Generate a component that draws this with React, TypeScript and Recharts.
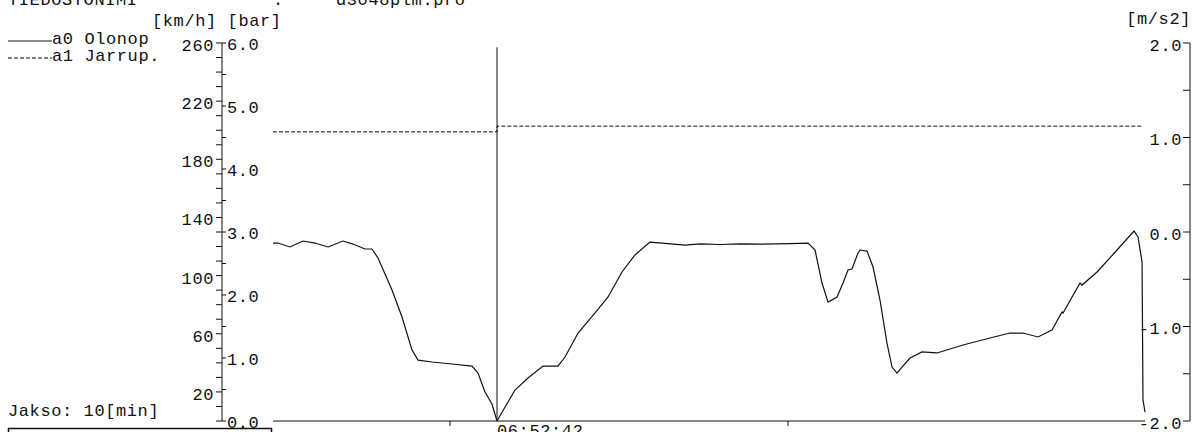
import React from "react";
import { ComposedChart, Line, XAxis, YAxis, ReferenceLine } from "recharts";

// time in minutes from start of the 10 min window
const SPEED_T = [
  0, 0.057, 0.195, 0.344, 0.482, 0.631, 0.803, 0.917, 1.055, 1.135, 1.204, 1.365, 1.479, 1.594,
  1.663, 1.823, 2.053, 2.282, 2.351, 2.431, 2.511, 2.569, 2.661, 2.775, 2.924, 3.096, 3.268,
  3.349, 3.498, 3.693, 3.842, 4.002, 4.151, 4.323, 4.461, 4.725, 4.897, 5.126, 5.356, 5.585,
  5.929, 6.135, 6.216, 6.296, 6.365, 6.468, 6.537, 6.594, 6.64, 6.709, 6.732, 6.812, 6.881,
  6.961, 7.041, 7.099, 7.156, 7.213, 7.305, 7.443, 7.615, 7.913, 8.222, 8.452, 8.601, 8.773,
  8.933, 9.048, 9.06, 9.255, 9.278, 9.45, 9.679, 9.874, 9.92, 9.966, 9.977, 10.0,
];
// a0 Olonop, km/h
const SPEED_KMH = [
  122.4, 122.4, 119.7, 123.8, 122.4, 119.7, 123.8, 121.7, 118.3, 118.3, 112.1, 90.1, 71.5, 48.8,
  41.9, 40.6, 39.2, 37.8, 33.0, 19.9, 11.7, 0, 9.6, 21.3, 29.6, 37.8, 37.8,
  44.0, 60.5, 74.3, 85.3, 102.5, 114.2, 123.1, 122.4, 121.0, 121.8, 121.4, 121.8, 121.6,
  122.0, 122.4, 117.6, 94.9, 81.8, 85.3, 94.9, 103.9, 104.5, 115.6, 117.6, 116.9, 105.9,
  83.2, 53.6, 37.1, 33.0, 37.1, 43.3, 47.5, 46.8, 52.3, 57.1, 60.5, 60.5, 57.8,
  62.6, 75.0, 74.3, 94.9, 93.5, 102.5, 117.6, 130.7, 126.6, 109.4, 14.4, 6.2,
];
// a1 Jarrup., bar
const BRAKE_T = [0, 2.569, 2.569, 9.966];
const BRAKE_BAR = [4.59, 4.59, 4.68, 4.68];

const CURSOR_T = 2.569;
const CURSOR_LABEL = "06:52:42";
const X_DOMAIN: [number, number] = [-0.585, 10.516];
const TIME_TICKS = [2.03, 5.906];
const KMH_TICKS = Array.from({ length: 27 }, (_, i) => i * 10);
const BAR_TICKS = [0, 0.5, 1, 1.5, 2, 2.5, 3, 3.5, 4, 4.5, 5, 5.5, 6];
const MS2_TICKS = [-2, -1.5, -1, -0.5, 0, 0.5, 1, 1.5, 2];

const speedData = SPEED_T.map((t, i) => ({ t, v: SPEED_KMH[i] }));
const brakeData = BRAKE_T.map((t, i) => ({ t, p: BRAKE_BAR[i] }));

const FONT = "'Liberation Mono', 'DejaVu Sans Mono', monospace";
const FS = 17;
const LS = 0.6;
const CW = FS * 0.6 + LS;
const INK = "#111";

const txt = { fontFamily: FONT, fontSize: FS, letterSpacing: LS, fill: INK } as const;

const KmhTick = (props: any) => {
  const { x, y, payload } = props;
  const v = payload.value;
  if ((v - 20) % 40 !== 0) return <g />;
  return (
    <text x={x} y={y + 2} dy="0.35em" textAnchor="end" {...txt}>
      {String(v)}
    </text>
  );
};
const BarTick = (props: any) => {
  const { x, y, payload } = props;
  const v = payload.value;
  if (Math.abs(v - Math.round(v)) > 1e-6) return <g />;
  return (
    <text x={x + 1} y={y + 1} dy="0.35em" textAnchor="start" {...txt}>
      {v.toFixed(1)}
    </text>
  );
};
const Ms2Tick = (props: any) => {
  const { x, y, payload } = props;
  const v = Number(payload.value);
  if (Math.abs(v - Math.round(v)) > 1e-6) return <g />;
  const s = v < 0 ? "-" + Math.abs(v).toFixed(1) : v.toFixed(1);
  return (
    <text x={x - s.length * CW} y={y + 2} dy="0.35em" textAnchor="start" {...txt}>
      {s}
    </text>
  );
};
const EmptyTick = () => <g />;

const cursorLabel = (props: any) => {
  const vb = props.viewBox || {};
  const bottom = (vb.y || 0) + (vb.height || 0);
  return (
    <text x={vb.x} y={bottom + 15} textAnchor="start" {...txt}>
      {CURSOR_LABEL}
    </text>
  );
};

const T = (p: { x: number; y: number; children: React.ReactNode; anchor?: string }) => (
  <text x={p.x} y={p.y} {...txt} textAnchor={(p.anchor as any) || "start"}>
    {p.children}
  </text>
);

export default function App() {
  return (
    <div style={{ position: "absolute", left: 0, top: 0, width: 1193, height: 432, background: "#fff", overflow: "hidden" }}>
      <ComposedChart width={1193} height={432} margin={{ top: 43, right: 3, bottom: 0, left: 0 }}>
        <XAxis
          xAxisId={0}
          type="number"
          dataKey="t"
          domain={X_DOMAIN}
          allowDataOverflow
          ticks={TIME_TICKS}
          interval={0}
          axisLine={false}
          tickLine={{ stroke: INK }}
          tickSize={5}
          tick={EmptyTick}
          height={11}
        />
        <YAxis
          yAxisId="kmh"
          orientation="left"
          width={222}
          domain={[0, 260]}
          allowDataOverflow
          ticks={KMH_TICKS}
          interval={0}
          tickSize={6}
          tickMargin={2}
          axisLine={{ stroke: INK }}
          tickLine={{ stroke: INK }}
          tick={KmhTick}
        />
        <YAxis
          yAxisId="bar"
          orientation="left"
          mirror
          domain={[0, 6]}
          allowDataOverflow
          ticks={BAR_TICKS}
          interval={0}
          tickSize={4}
          tickMargin={0}
          axisLine={false}
          tickLine={{ stroke: INK }}
          tick={BarTick}
        />
        <YAxis
          yAxisId="ms2"
          orientation="right"
          mirror
          width={60}
          domain={[-2, 2]}
          allowDataOverflow
          ticks={MS2_TICKS}
          interval={0}
          tickSize={7}
          tickMargin={1}
          axisLine={{ stroke: INK }}
          tickLine={{ stroke: INK }}
          tick={Ms2Tick}
        />
        <ReferenceLine
          yAxisId="kmh"
          segment={[{ x: 0, y: 0 }, { x: 10, y: 0 }]}
          stroke={INK}
          strokeWidth={1.2}
        />
        <ReferenceLine
          yAxisId="kmh"
          segment={[{ x: CURSOR_T, y: 0 }, { x: CURSOR_T, y: 257 }]}
          stroke={INK}
          strokeWidth={1}
          label={cursorLabel}
        />
        <Line
          yAxisId="bar"
          data={brakeData}
          dataKey="p"
          type="linear"
          stroke={INK}
          strokeWidth={1}
          strokeDasharray="4 2"
          dot={false}
          isAnimationActive={false}
        />
        <Line
          yAxisId="kmh"
          data={speedData}
          dataKey="v"
          type="linear"
          stroke={INK}
          strokeWidth={1.2}
          dot={false}
          isAnimationActive={false}
        />
      </ComposedChart>
      <svg width={1193} height={432} style={{ position: "absolute", left: 0, top: 0, pointerEvents: "none" }}>
        <T x={8} y={5}>TIEDOSTONIMI</T>
        <T x={273} y={5}>:</T>
        <T x={336} y={5}>d3048plm.pro</T>
        <T x={152} y={26}>[km/h] [bar]</T>
        <T x={1191} y={24} anchor="end">[m/s2]</T>
        <line x1={8} y1={41} x2={52} y2={41} stroke={INK} strokeWidth={1} />
        <T x={52} y={44}>a0 Olonop</T>
        <line x1={8} y1={58} x2={52} y2={58} stroke={INK} strokeWidth={1} strokeDasharray="4 2" />
        <T x={52} y={61}>a1 Jarrup.</T>
        <T x={8} y={416}>Jakso: 10[min]</T>
        <rect x={8.5} y={428.5} width={263} height={20} fill="none" stroke={INK} strokeWidth={1.5} />
      </svg>
    </div>
  );
}
